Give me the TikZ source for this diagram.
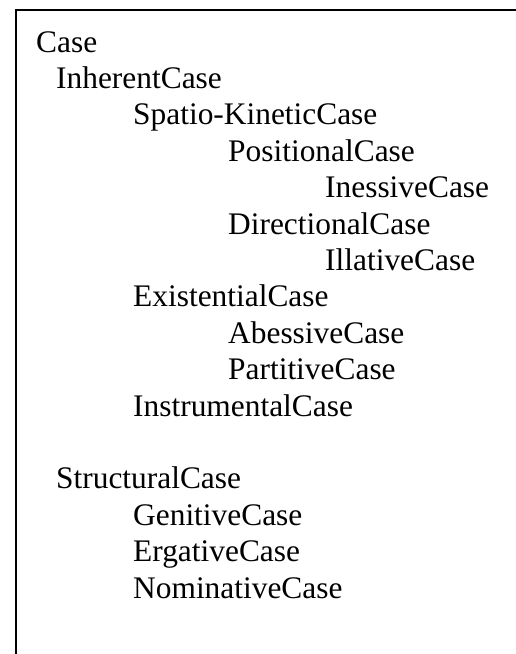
\documentclass[tikz,border=0pt]{standalone}
\usepackage{fontspec}
\setmainfont{Liberation Serif}
\begin{document}
\begin{tikzpicture}[x=1pt,y=-1pt,
  lbl/.style={anchor=base west,inner sep=0pt,font=\fontsize{31.4}{36}\selectfont}]
\useasboundingbox (0,0) rectangle (515,654);
\fill[white] (0,0) rectangle (515,654);
\draw[line width=2pt,line join=miter] (516,10) -- (16,10) -- (16,655);
\def\dy{36.4}
\node[lbl] (case)   at (36,52) {Case};
\node[lbl] (inh)    at (56,52+1*\dy) {InherentCase};
\node[lbl] (spk)    at (133,52+2*\dy) {Spatio-KineticCase};
\node[lbl] (pos)    at (228,52+3*\dy) {PositionalCase};
\node[lbl] (iness)  at (325,52+4*\dy) {InessiveCase};
\node[lbl] (dir)    at (228,52+5*\dy) {DirectionalCase};
\node[lbl] (ill)    at (325,52+6*\dy) {IllativeCase};
\node[lbl] (exi)    at (133,52+7*\dy) {ExistentialCase};
\node[lbl] (abe)    at (228,52+8*\dy) {AbessiveCase};
\node[lbl] (par)    at (228,52+9*\dy) {PartitiveCase};
\node[lbl] (ins)    at (133,52+10*\dy) {InstrumentalCase};
\node[lbl] (str)    at (56,52+12*\dy) {StructuralCase};
\node[lbl] (gen)    at (133,52+13*\dy) {GenitiveCase};
\node[lbl] (erg)    at (133,52+14*\dy) {ErgativeCase};
\node[lbl] (nom)    at (133,52+15*\dy) {NominativeCase};
\end{tikzpicture}
\end{document}
